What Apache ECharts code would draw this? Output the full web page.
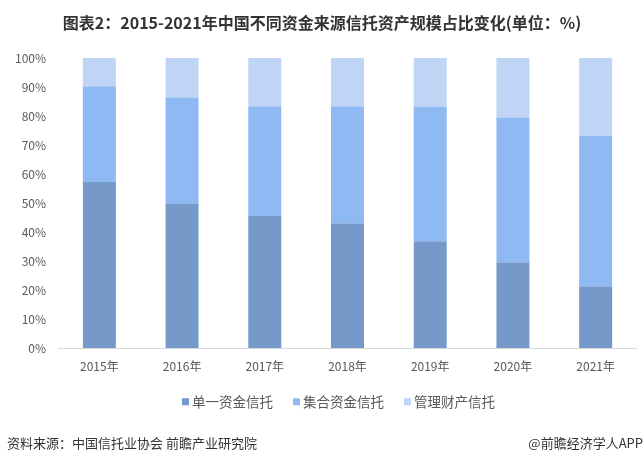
<!DOCTYPE html>
<html>
<head>
<meta charset="utf-8">
<script src="https://cdn.jsdelivr.net/npm/echarts@6/dist/echarts.min.js"></script>
<style>
  html, body { margin: 0; padding: 0; background: #fff; }
  #chart { width: 644px; height: 462px; }
</style>
</head>
<body>
<div id="chart"></div>
<script>
// values (percent)
const years = ['2015年', '2016年', '2017年', '2018年', '2019年', '2020年', '2021年'];
const singleFund = [57.2, 49.9, 45.5, 43.0, 36.8, 29.6, 21.3];
const collectiveFund = [33.1, 36.6, 37.9, 40.4, 46.3, 50.0, 51.8];
const propertyMgmt = [9.7, 13.5, 16.6, 16.6, 16.9, 20.4, 26.9];
const seriesNames = ['单一资金信托', '集合资金信托', '管理财产信托'];
const colors = ['#7599c9', '#8fb9f3', '#c0d5f5'];

const font = '"Microsoft YaHei", "Noto Sans CJK SC", sans-serif';

let chart = echarts.init(document.getElementById('chart'));

let series = [singleFund, collectiveFund, propertyMgmt].map(function(data, i) {
  return {
    name: seriesNames[i],
    type: 'bar',
    stack: 'total',
    barWidth: 33,
    data: data,
    itemStyle: { color: colors[i] },
  };
});

chart.setOption({
  animation: false,
  title: {
    text: '图表2：2015-2021年中国不同资金来源信托资产规模占比变化(单位：%)',
    left: 'center',
    top: 10,
    textStyle: { fontFamily: font, fontSize: 16, fontWeight: 'bold', color: '#333' },
  },
  legend: {
    left: 177,
    top: 390,
    itemWidth: 7,
    itemHeight: 7,
    itemGap: 20,
    icon: 'rect',
    textStyle: { fontFamily: font, fontSize: 13.5, color: '#595959', padding: [0, 0, 0, -2] },
    data: seriesNames,
  },
  grid: {
    left: 58,
    right: 7,
    top: 58,
    bottom: 114,
  },
  xAxis: {
    type: 'category',
    data: years,
    axisLine: { lineStyle: { color: '#d9d9d9' } },
    axisTick: { show: false },
    axisLabel: { fontFamily: font, fontSize: 12, color: '#595959', margin: 12 },
  },
  yAxis: {
    type: 'value',
    min: 0,
    max: 100,
    interval: 10,
    splitLine: { show: false },
    axisLine: { show: false },
    axisTick: { show: false },
    axisLabel: { fontFamily: font, fontSize: 12, color: '#595959', margin: 12, formatter: '{value}%' },
  },
  graphic: [
    {
      type: 'text',
      left: 7,
      top: 437,
      style: { text: '资料来源：中国信托业协会 前瞻产业研究院', font: '13px ' + font, fill: '#333' },
    },
    {
      type: 'text',
      right: 1,
      top: 437,
      style: { text: '@前瞻经济学人APP', font: '13px ' + font, fill: '#333' },
    },
  ],
  series: series,
});
</script>
</body>
</html>
